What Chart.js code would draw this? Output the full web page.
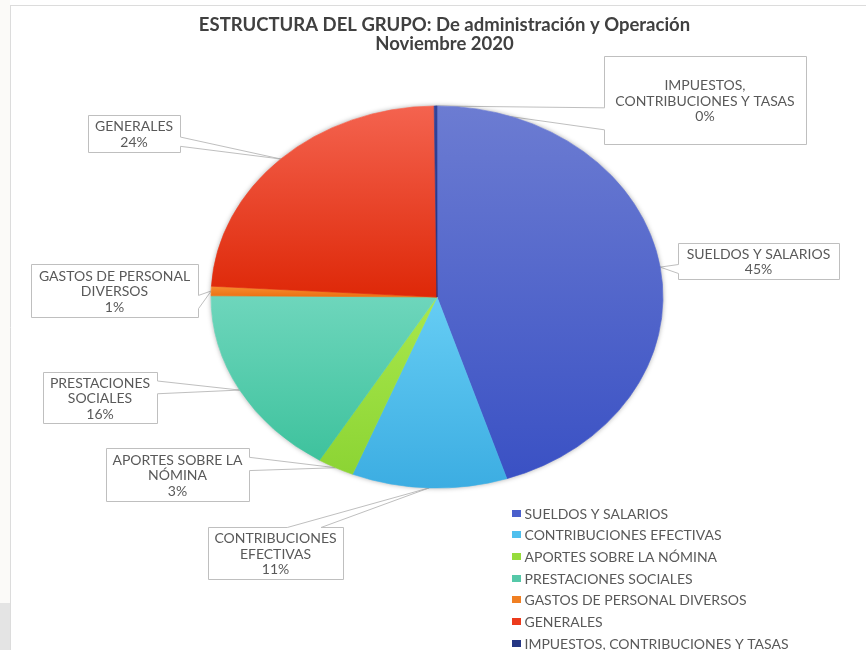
<!DOCTYPE html>
<html lang="es">
<head>
<meta charset="utf-8">
<title>Estructura del grupo</title>
<script src="https://cdn.jsdelivr.net/npm/chart.js@4.4.1/dist/chart.umd.min.js"></script>
<style>
    html, body { margin: 0; padding: 0; background: #fff; }
    canvas { display: block; }
</style>
</head>
<body>
<canvas id="pieChart" width="866" height="650"></canvas>
<script>
// categories and their share of the total (percent)
const categories = [
    "SUELDOS Y SALARIOS",
    "CONTRIBUCIONES EFECTIVAS",
    "APORTES SOBRE LA NÓMINA",
    "PRESTACIONES SOCIALES",
    "GASTOS DE PERSONAL DIVERSOS",
    "GENERALES",
    "IMPUESTOS, CONTRIBUCIONES Y TASAS"
];
const shares = [45.0, 11.1, 2.6, 16.4, 0.8, 23.9, 0.2];

// label text as wrapped inside the callout boxes
const calloutText = [
    ["SUELDOS Y SALARIOS"],
    ["CONTRIBUCIONES", "EFECTIVAS"],
    ["APORTES SOBRE LA", "NÓMINA"],
    ["PRESTACIONES", "SOCIALES"],
    ["GASTOS DE PERSONAL", "DIVERSOS"],
    ["GENERALES"],
    ["IMPUESTOS,", "CONTRIBUCIONES Y TASAS"]
];
const titleLines = ["ESTRUCTURA DEL GRUPO: De administración y Operación", "Noviembre 2020"];

// slice colours (gradient top -> bottom) and legend swatches
const sliceTop = ["#6c7cd2", "#66cdf4", "#a9e84c", "#6ed6bc", "#f68d30", "#f4634f", "#33449a"];
const sliceBottom = ["#3a51c4", "#3cade2", "#8cd434", "#3ec29d", "#ec7012", "#de2808", "#1e2e7e"];
const legendColors = ["#4a5fcc", "#4fc0ee", "#96dc3c", "#55c8a8", "#f07f22", "#ec3a1c", "#253684"];

// layout (page pixels)
const PIE_R = 191;
const STRETCH_X = 1.183;   // the pie is drawn as a wide ellipse
const calloutBoxes = [
    [678, 243, 161, 36],
    [208, 527, 135, 52],
    [106, 448, 143, 53],
    [43, 372, 114, 51],
    [31, 264, 167, 53],
    [88, 115, 92, 37],
    [604, 56, 202, 88]
];
const FONT = "Lato, 'Open Sans', sans-serif";
const TEXT_GREY = "#595959";

const total = shares.reduce((a, b) => a + b, 0);

// vertical extent of a slice, used for its gradient
function arcYRange(a0, a1, cy, r) {
    const ys = [cy, cy + r * Math.sin(a0), cy + r * Math.sin(a1)];
    [-Math.PI / 2, Math.PI / 2].forEach(base => {
        for (let k = -1; k <= 1; k++) {
            const a = base + 2 * Math.PI * k;
            if (a >= a0 && a <= a1) ys.push(cy + r * Math.sin(a));
        }
    });
    return [Math.min(...ys), Math.max(...ys)];
}

function sliceFill(c) {
    const i = c.dataIndex;
    const area = c.chart.chartArea;
    if (!area) return sliceTop[i];
    const cy = (area.top + area.bottom) / 2;
    let before = 0;
    for (let k = 0; k < i; k++) before += shares[k];
    const a0 = -Math.PI / 2 + before / total * 2 * Math.PI;
    const a1 = a0 + shares[i] / total * 2 * Math.PI;
    const [y0, y1] = arcYRange(a0, a1, cy, PIE_R);
    const g = c.chart.ctx.createLinearGradient(0, y0, 0, Math.max(y1, y0 + 1));
    g.addColorStop(0, sliceTop[i]);
    g.addColorStop(1, sliceBottom[i]);
    return g;
}

// point on the pie edge at the middle of slice i (after stretching)
function tipPoint(chart, i) {
    const arc = chart.getDatasetMeta(0).data[i];
    const mid = (arc.startAngle + arc.endAngle) / 2;
    return {
        x: arc.x + Math.cos(mid) * arc.outerRadius * STRETCH_X,
        y: arc.y + Math.sin(mid) * arc.outerRadius
    };
}

// rectangle callout with a wedge pointing at the tip (like Excel's wedgeRectCallout)
function calloutPath(ctx, box, tip) {
    const x = Math.round(box[0]) + 0.5, y = Math.round(box[1]) + 0.5;
    const w = box[2], h = box[3];
    const dx = tip.x - (x + w / 2), dy = tip.y - (y + h / 2);
    const vertical = Math.abs(dy) - Math.abs(dx * h / w) > 0;
    const x1 = w * (dx > 0 ? 7 : 2) / 12, x2 = w * (dx > 0 ? 10 : 5) / 12;
    const y1 = h * (dy > 0 ? 7 : 2) / 12, y2 = h * (dy > 0 ? 10 : 5) / 12;
    ctx.beginPath();
    ctx.moveTo(x, y);
    if (vertical && dy < 0) { ctx.lineTo(x + x1, y); ctx.lineTo(tip.x, tip.y); ctx.lineTo(x + x2, y); }
    ctx.lineTo(x + w, y);
    if (!vertical && dx > 0) { ctx.lineTo(x + w, y + y1); ctx.lineTo(tip.x, tip.y); ctx.lineTo(x + w, y + y2); }
    ctx.lineTo(x + w, y + h);
    if (vertical && dy > 0) { ctx.lineTo(x + x2, y + h); ctx.lineTo(tip.x, tip.y); ctx.lineTo(x + x1, y + h); }
    ctx.lineTo(x, y + h);
    if (!vertical && dx <= 0) { ctx.lineTo(x, y + y2); ctx.lineTo(tip.x, tip.y); ctx.lineTo(x, y + y1); }
    ctx.closePath();
}

const excelLook = {
    id: "excelLook",
    beforeDraw(chart) {
        const ctx = chart.ctx;
        ctx.save();
        ctx.fillStyle = "#ffffff";
        ctx.fillRect(0, 0, chart.width, chart.height);
        ctx.fillStyle = "#fbfaf8";
        ctx.fillRect(0, 0, 10, chart.height);
        ctx.fillStyle = "#e4e4e4";
        ctx.fillRect(0, 603, 10, chart.height - 603);
        ctx.strokeStyle = "#dcdcdc";
        ctx.lineWidth = 1;
        ctx.beginPath();
        ctx.moveTo(10.5, 5);
        ctx.lineTo(10.5, chart.height);
        ctx.moveTo(10, 5.5);
        ctx.lineTo(chart.width, 5.5);
        ctx.stroke();
        ctx.restore();
    },
    beforeDatasetsDraw(chart) {
        const ctx = chart.ctx;
        const arc0 = chart.getDatasetMeta(0).data[0];
        const cx = arc0.x, cy = arc0.y, r = arc0.outerRadius;

        // callout boxes sit under the pie, so the wedge tips disappear behind it
        ctx.save();
        ctx.lineWidth = 1;
        ctx.strokeStyle = "#bfbfbf";
        ctx.font = "14px " + FONT;
        ctx.textAlign = "center";
        ctx.textBaseline = "middle";
        calloutBoxes.forEach((box, i) => {
            calloutPath(ctx, box, tipPoint(chart, i));
            ctx.fillStyle = "#ffffff";
            ctx.fill();
            ctx.stroke();
            const lines = calloutText[i].concat([Math.round(shares[i] / total * 100) + "%"]);
            const lh = 15.5;
            const midY = box[1] + box[3] / 2;
            const startY = midY - (lines.length - 1) * lh / 2;
            ctx.fillStyle = TEXT_GREY;
            lines.forEach((t, k) => ctx.fillText(t, box[0] + box[2] / 2, startY + k * lh + 1));
        });
        ctx.restore();

        // soft shadow round the pie
        ctx.save();
        ctx.shadowColor = "rgba(0, 0, 0, 0.35)";
        ctx.shadowBlur = 5;
        ctx.fillStyle = "#ffffff";
        ctx.beginPath();
        ctx.ellipse(cx, cy, r * STRETCH_X, r, 0, 0, 2 * Math.PI);
        ctx.fill();
        ctx.restore();

        // stretch the pie horizontally around its centre
        ctx.save();
        ctx.translate(cx, 0);
        ctx.scale(STRETCH_X, 1);
        ctx.translate(-cx, 0);
    },
    afterDatasetsDraw(chart) {
        chart.ctx.restore();
    },
    afterDraw(chart) {
        const ctx = chart.ctx;
        ctx.save();
        // title
        ctx.fillStyle = "#404040";
        ctx.textAlign = "center";
        ctx.textBaseline = "alphabetic";
        ctx.font = "bold 18.5px " + FONT;
        ctx.fillText(titleLines[0], 444.5, 31);
        ctx.fillText(titleLines[1], 444.5, 50);

        // legend
        ctx.font = "14px " + FONT;
        ctx.textAlign = "left";
        ctx.textBaseline = "middle";
        chart.data.labels.forEach((label, i) => {
            const y = 513.3 + i * 21.67;
            ctx.fillStyle = legendColors[i];
            ctx.fillRect(512, Math.round(y - 3.5), 9, 7);
            ctx.fillStyle = TEXT_GREY;
            ctx.fillText(label, 524.5, y + 1);
        });
        ctx.restore();
    }
};

new Chart(document.getElementById("pieChart"), {
    type: "pie",
    data: {
        labels: categories,
        datasets: [{
            data: shares,
            backgroundColor: sliceFill,
            borderColor: sliceFill,
            borderWidth: 0.6,
            radius: PIE_R
        }]
    },
    options: {
        responsive: false,
        animation: false,
        events: [],
        layout: { padding: { left: 8, right: 0, top: 0, bottom: 56 } },
        plugins: {
            legend: { display: false },
            tooltip: { enabled: false },
            title: { display: false }
        }
    },
    plugins: [excelLook]
});
</script>
</body>
</html>
